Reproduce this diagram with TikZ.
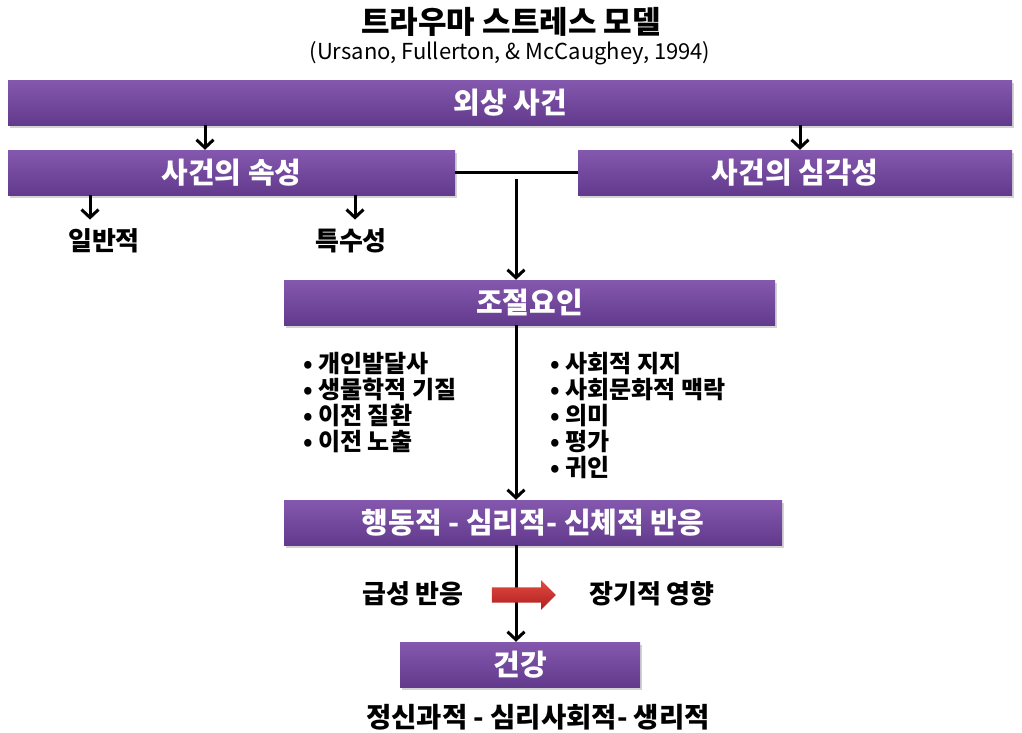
\documentclass[tikz,border=0pt]{standalone}
\usepackage{fontspec}
\setmainfont{Noto Sans CJK KR}
\usetikzlibrary{arrows.meta,shadows,shapes.arrows}
\definecolor{boxtop}{RGB}{132,88,174}
\definecolor{boxbot}{RGB}{98,58,140}
\definecolor{redtop}{RGB}{225,75,65}
\definecolor{redbot}{RGB}{175,30,30}
\tikzset{
  pbox/.style={rectangle, inner sep=0pt, top color=boxtop, bottom color=boxbot,
    text=white, font=\bfseries\fontsize{29}{32}\selectfont, minimum height=45pt,
    drop shadow={shadow xshift=2pt, shadow yshift=-3pt, opacity=0.35}},
  arr/.style={line width=3pt, -{Straight Barb[length=8pt,width=17pt]}},
  conn/.style={line width=3pt},
  lbl/.style={font=\bfseries\fontsize{26}{30}\selectfont, inner sep=0pt},
  lst/.style={font=\bfseries\fontsize{24}{26}\selectfont, align=left, inner sep=0pt, anchor=north west},
  redarrow/.style={single arrow, top color=redtop, bottom color=redbot, draw=none,
    minimum height=64pt, minimum width=27pt, inner sep=0pt, text height=15pt, text depth=0pt}
}
\begin{document}
\begin{tikzpicture}[x=1pt,y=-1pt]
\useasboundingbox (0,0) rectangle (1022,732);
\node[font=\bfseries\fontsize{31}{34}\selectfont] (title) at (511,22) {트라우마 스트레스 모델};
\node[font=\fontsize{22}{25}\selectfont] (sub) at (510,53) {(Ursano, Fullerton, \& McCaughey, 1994)};

\node[pbox, minimum width=1004pt] (trauma) at (510,102.5) {외상 사건};
\node[pbox, minimum width=447pt] (attr) at (231.5,172.5) {사건의 속성};
\node[pbox, minimum width=434pt] (sev) at (795,172.5) {사건의 심각성};
\node[pbox, minimum width=491pt] (mod) at (529.5,302.5) {조절요인};
\node[pbox, minimum width=498pt] (resp) at (533,522.5) {행동적 - 심리적- 신체적 반응};
\node[pbox, minimum width=240pt] (health) at (520,664.5) {건강};

\node[lbl] (gen) at (104,241) {일반적};
\node[lbl] (spec) at (351,241) {특수성};

\coordinate (xa) at (205,0);
\coordinate (xb) at (800,0);
\coordinate (xg) at (90,0);
\coordinate (xs) at (355,0);
\coordinate (xm) at (516,0);
\coordinate (junc) at (516,179);

\draw[arr] (trauma.south -| xa) -- (attr.north -| xa);
\draw[arr] (trauma.south -| xb) -- (sev.north -| xb);
\draw[arr] (attr.south -| xg) -- ([yshift=9pt]gen.north -| xg);
\draw[arr] (attr.south -| xs) -- ([yshift=9pt]spec.north -| xs);
\draw[conn] (attr.east) -- (sev.west);
\draw[arr] (junc) -- (mod.north -| xm);
\draw[arr] (mod.south -| xm) -- (resp.north -| xm);
\draw[arr] (resp.south -| xm) -- (health.north -| xm);

\node[lst] (left) at (303,352) {• 개인발달사\\• 생물학적 기질\\• 이전 질환\\• 이전 노출};
\node[lst] (right) at (550,352) {• 사회적 지지\\• 사회문화적 맥락\\• 의미\\• 평가\\• 귀인};

\node[lbl] (acute) at (413,594) {급성 반응};
\node[lbl] (long) at (652,594) {장기적 영향};
\node[redarrow] (red) at (520,595) {};

\node[lbl, font=\bfseries\fontsize{27.5}{30}\selectfont] (bottom) at (538,717) {정신과적 - 심리사회적- 생리적};
\end{tikzpicture}
\end{document}
